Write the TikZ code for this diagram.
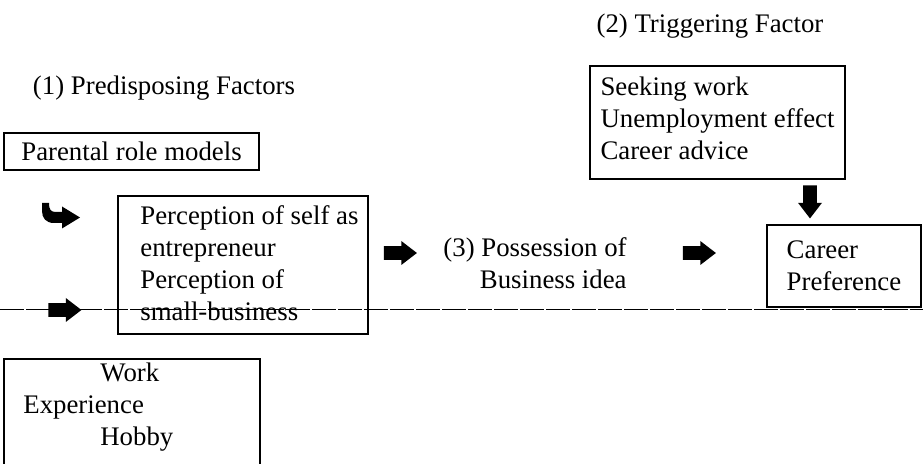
\documentclass[tikz,border=0pt]{standalone}
\usepackage{fontspec}
\setmainfont{Liberation Serif}
\usetikzlibrary{shapes.arrows}

\begin{document}
\begin{tikzpicture}[x=0.5pt,y=-0.5pt,font=\fontsize{13.4}{16}\selectfont,
  factorbox/.style={draw,line width=0.7pt,inner sep=0pt},
  plaintext/.style={align=left,inner sep=0pt},
  blockarrow/.style={single arrow,fill=black,inner sep=3.2pt,minimum height=16.5pt,minimum width=11.5pt,single arrow head extend=2.6pt,single arrow tip angle=75}]
\useasboundingbox (0,0) rectangle (923,464);
\coordinate (lineL) at (0,309);
\coordinate (lineR) at (923,309);
\draw[dash pattern=on 12pt off 1pt,line width=0.45pt] (lineL) -- (lineR);
\node (predis) at (164,88) {(1) Predisposing Factors};
\node (trigger) at (710,26) {(2) Triggering Factor};
\node[factorbox,minimum width=127.5pt,minimum height=18.5pt] (parental) at (131.5,151.5) {Parental role models};
\node[factorbox,minimum width=125pt,minimum height=69pt] (perceptbox) at (243,265) {};
\node[plaintext,anchor=west] (percepttext) at (140,263) {Perception of self as\\entrepreneur\\Perception of\\small-business};
\node[factorbox,align=left,minimum width=127.5pt,minimum height=56.5pt] (trigbox) at (717.5,122.5) {Seeking work\\Unemployment effect\\Career advice\\[-12pt]};
\node[factorbox,align=left,minimum width=77pt,minimum height=41pt] (career) at (844,266) {Career\\Preference};
\node[align=right,anchor=east,inner sep=0pt] (possess) at (627,263) {(3) Possession of\\Business idea};
\node[factorbox,minimum width=128pt,minimum height=55.5pt] (workbox) at (132,414.5) {};
\node[plaintext,anchor=west] (worktext) at (23,407) {\hspace*{38.5pt}Work\\Experience\\\hspace*{38.5pt}Hobby};
\node[blockarrow] (toidea) at (396,253) {};
\node[blockarrow] (tocareer) at (695,253) {};
\node[blockarrow,shape border rotate=270] (trigdown) at (810,197.5) {};
\node[blockarrow] (fromwork) at (60.5,310) {};
\fill (42,203) -- (49,203) .. controls (49,210) and (51,212) .. (56,212) -- (62,212) -- (62,206.5) -- (80,217.5) -- (62,228.5) -- (62,223) -- (54,223) .. controls (46,223) and (42,218) .. (42,211) -- cycle;
\end{tikzpicture}
\end{document}
